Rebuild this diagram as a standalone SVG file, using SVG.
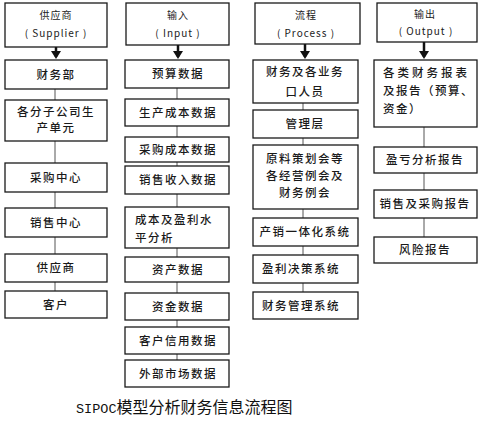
<svg xmlns="http://www.w3.org/2000/svg" width="488" height="423" viewBox="0 0 488 423">
<style>
.b{fill:#fff;stroke:#1a1a1a;stroke-width:1.3}
.t{font-family:"Noto Sans CJK SC","Noto Sans",sans-serif;font-size:11.5px;font-weight:500;letter-spacing:1.5px;fill:#1a1a1a;text-anchor:middle}
.l{text-anchor:start}
.h{font-family:"Noto Sans CJK SC","Noto Sans",sans-serif;font-size:10px;letter-spacing:1px;fill:#1a1a1a;text-anchor:middle}
.c{stroke:#555;stroke-width:1;fill:none}
.a{stroke:#111;stroke-width:2.5;fill:none}
</style>
<defs>
<marker id="ah" markerWidth="4" markerHeight="4" refX="2.4" refY="2" orient="auto" markerUnits="strokeWidth">
<path d="M0,0 L3.2,2 L0,4 z" fill="#111"/>
</marker>
</defs>
<rect width="488" height="423" fill="#fff"/>
<g id="connectors">
<line class="a" x1="56" y1="47" x2="56" y2="57" marker-end="url(#ah)"/>
<line class="a" x1="178" y1="45" x2="178" y2="57" marker-end="url(#ah)"/>
<line class="a" x1="305" y1="44" x2="305" y2="57" marker-end="url(#ah)"/>
<line class="a" x1="424" y1="42" x2="424" y2="57" marker-end="url(#ah)"/>
<line class="c" x1="55" y1="89" x2="55" y2="291"/>
<line class="c" x1="177" y1="88" x2="177" y2="360"/>
<line class="c" x1="303" y1="103" x2="303" y2="292"/>
<line class="c" x1="424" y1="127" x2="424" y2="237"/>
</g>
<g id="n-supplier-h"><rect class="b" x="5" y="3" width="102" height="44"/><text class="h" x="56" y="19">供应商</text><text class="h" x="56" y="37">( Supplier )</text></g>
<g id="n-c1-1"><rect class="b" x="5" y="60" width="102" height="29"/><text class="t" x="56" y="79">财务部</text></g>
<g id="n-c1-2"><rect class="b" x="5" y="100" width="102" height="41"/><text class="t" x="56" y="116">各分子公司生</text><text class="t" x="56" y="132">产单元</text></g>
<g id="n-c1-3"><rect class="b" x="5" y="163" width="102" height="29"/><text class="t" x="56" y="182">采购中心</text></g>
<g id="n-c1-4"><rect class="b" x="5" y="208" width="102" height="29"/><text class="t" x="56" y="227">销售中心</text></g>
<g id="n-c1-5"><rect class="b" x="5" y="254" width="102" height="28"/><text class="t" x="56" y="272">供应商</text></g>
<g id="n-c1-6"><rect class="b" x="5" y="291" width="102" height="27"/><text class="t" x="56" y="309">客户</text></g>

<g id="n-input-h"><rect class="b" x="126" y="3" width="103" height="42"/><text class="h" x="178" y="19">输入</text><text class="h" x="178" y="37">( Input )</text></g>
<g id="n-c2-1"><rect class="b" x="125" y="60" width="104" height="28"/><text class="t" x="178" y="78">预算数据</text></g>
<g id="n-c2-2"><rect class="b" x="125" y="99" width="104" height="27"/><text class="t" x="178" y="117">生产成本数据</text></g>
<g id="n-c2-3"><rect class="b" x="125" y="137" width="104" height="25"/><text class="t" x="178" y="154">采购成本数据</text></g>
<g id="n-c2-4"><rect class="b" x="125" y="166" width="104" height="28"/><text class="t" x="178" y="184">销售收入数据</text></g>
<g id="n-c2-5"><rect class="b" x="125" y="207" width="104" height="41"/><text class="t l" x="135" y="224">成本及盈利水</text><text class="t l" x="135" y="242">平分析</text></g>
<g id="n-c2-6"><rect class="b" x="125" y="257" width="104" height="25"/><text class="t" x="178" y="274">资产数据</text></g>
<g id="n-c2-7"><rect class="b" x="125" y="293" width="104" height="27"/><text class="t" x="178" y="311">资金数据</text></g>
<g id="n-c2-8"><rect class="b" x="125" y="327" width="104" height="27"/><text class="t" x="178" y="345">客户信用数据</text></g>
<g id="n-c2-9"><rect class="b" x="125" y="360" width="104" height="27"/><text class="t" x="178" y="378">外部市场数据</text></g>

<g id="n-process-h"><rect class="b" x="255" y="3" width="105" height="41"/><text class="h" x="306" y="19">流程</text><text class="h" x="306" y="37">( Process )</text></g>
<g id="n-c3-1"><rect class="b" x="253" y="60" width="105" height="43"/><text class="t" x="305" y="76">财务及各业务</text><text class="t" x="305" y="96">口人员</text></g>
<g id="n-c3-2"><rect class="b" x="253" y="110" width="105" height="28"/><text class="t" x="305" y="128">管理层</text></g>
<g id="n-c3-3"><rect class="b" x="253" y="145" width="105" height="64"/><text class="t" x="305" y="163">原料策划会等</text><text class="t" x="305" y="180">各经营例会及</text><text class="t" x="305" y="197">财务例会</text></g>
<g id="n-c3-4"><rect class="b" x="253" y="218" width="105" height="28"/><text class="t" x="305" y="236">产销一体化系统</text></g>
<g id="n-c3-5"><rect class="b" x="253" y="255" width="105" height="28"/><text class="t l" x="262" y="273">盈利决策系统</text></g>
<g id="n-c3-6"><rect class="b" x="253" y="292" width="105" height="27"/><text class="t l" x="262" y="310">财务管理系统</text></g>

<g id="n-output-h"><rect class="b" x="377" y="3" width="100" height="39"/><text class="h" x="425" y="18">输出</text><text class="h" x="426" y="35">( Output )</text></g>
<g id="n-c4-1"><rect class="b" x="374" y="60" width="103" height="67"/><text class="t l" x="383" y="77" style="letter-spacing:3px">各类财务报表</text><text class="t l" x="383" y="95">及报告（预算、</text><text class="t l" x="383" y="113">资金）</text></g>
<g id="n-c4-2"><rect class="b" x="374" y="147" width="103" height="26"/><text class="t" x="425" y="164">盈亏分析报告</text></g>
<g id="n-c4-3"><rect class="b" x="374" y="190" width="103" height="28"/><text class="t" x="425" y="208">销售及采购报告</text></g>
<g id="n-c4-4"><rect class="b" x="374" y="237" width="103" height="26"/><text class="t" x="425" y="254">风险报告</text></g>

<text x="76" y="413" style="font-family:'Liberation Mono','Noto Sans CJK SC',monospace;font-size:13.5px;fill:#111"><tspan>SIPOC</tspan><tspan style="font-family:'Noto Sans CJK SC',sans-serif;font-size:16px">模型分析财务信息流程图</tspan></text>
</svg>
